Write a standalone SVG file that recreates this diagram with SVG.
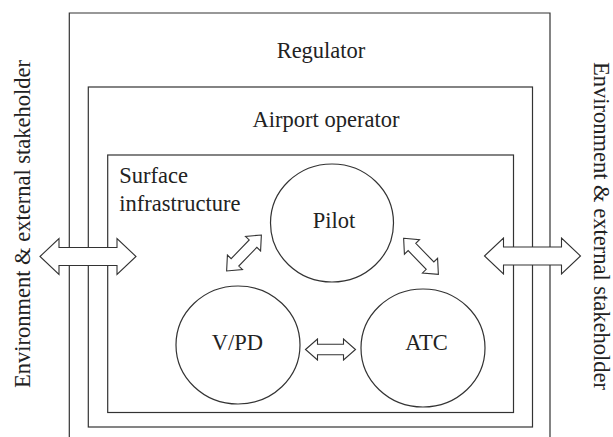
<svg xmlns="http://www.w3.org/2000/svg" width="613" height="437" viewBox="0 0 613 437">
<style>
.ln{fill:none;stroke:#333;stroke-width:1.2}
.ar{fill:#fff;stroke:#333;stroke-width:1.1;stroke-linejoin:miter}
.nd{fill:#fff;stroke:#333;stroke-width:1.2}
text{font-family:"Liberation Serif","Times New Roman",serif;font-size:22.5px;fill:#222}
.c{text-anchor:middle}
</style>
<defs>
<path id="big" d="M-48,0 L-29,-18 L-29,-9 L29,-9 L29,-18 L48,0 L29,18 L29,9 L-29,9 L-29,18 Z"/>
<path id="small" d="M-25,0 L-13,-10.5 L-13,-5.3 L13,-5.3 L13,-10.5 L25,0 L13,10.5 L13,5.3 L-13,5.3 L-13,10.5 Z"/>
</defs>
<g id="regulator">
<path class="ln" d="M69.3,437 V13 H550 V437"/>
<text class="c" x="321" y="58.3">Regulator</text>
</g>
<g id="airport-operator">
<rect class="ln" x="88.3" y="87" width="444.2" height="340"/>
<text class="c" x="326" y="126.7">Airport operator</text>
</g>
<g id="surface-infrastructure">
<rect class="ln" x="107.7" y="155" width="405.8" height="257.5"/>
<text x="119.3" y="183.3">Surface</text>
<text x="119.3" y="211">infrastructure</text>
</g>
<g id="pilot">
<ellipse class="nd" cx="332" cy="223" rx="61.5" ry="59"/>
<text class="c" x="334" y="228.3">Pilot</text>
</g>
<g id="vpd">
<ellipse class="nd" cx="238" cy="345" rx="62" ry="59"/>
<text class="c" x="237.5" y="350">V/PD</text>
</g>
<g id="atc">
<ellipse class="nd" cx="423" cy="348" rx="62" ry="59"/>
<text class="c" x="426.5" y="350">ATC</text>
</g>
<g id="env-left">
<text class="c" transform="translate(29.5,224) rotate(-90)">Environment &amp; external stakeholder</text>
</g>
<g id="env-right">
<text class="c" transform="translate(594,226) rotate(90)">Environment &amp; external stakeholder</text>
</g>
<g id="connectors">
<use href="#big" class="ar" transform="translate(88,256.5)"/>
<use href="#big" class="ar" transform="translate(532.5,256)"/>
<use href="#small" class="ar" transform="translate(330.5,349.5)"/>
<use href="#small" class="ar" transform="translate(244,253) rotate(-46)"/>
<use href="#small" class="ar" transform="translate(421,256.3) rotate(46)"/>
</g>
</svg>
